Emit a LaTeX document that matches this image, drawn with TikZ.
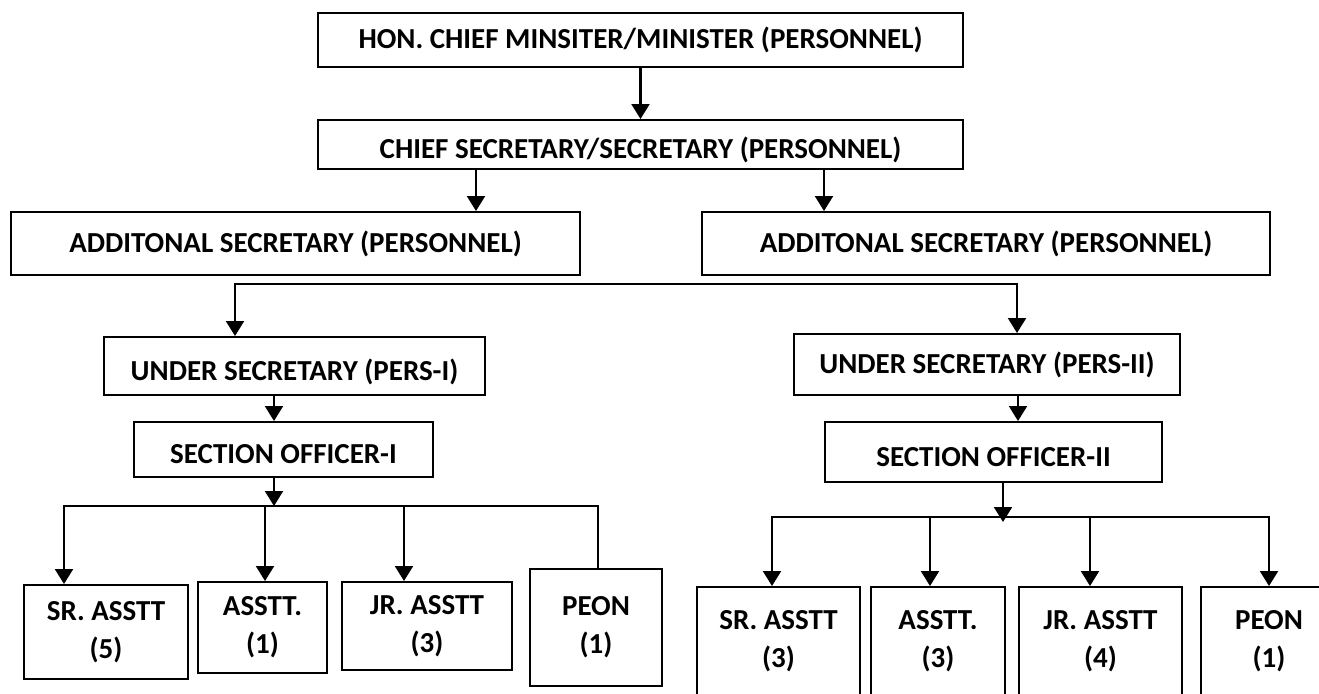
\documentclass[tikz,border=0pt]{standalone}
\usepackage{fontspec}
\setmainfont{Carlito}
\usetikzlibrary{arrows.meta}
\tikzset{
    box/.style={draw, line width=2pt, inner sep=0pt, align=center, font=\fontsize{29}{38}\selectfont\bfseries},
    low/.style={text height=28pt, text depth=0pt},
    arr/.style={line width=2.2pt, line cap=rect, -{Triangle[length=15pt,width=18pt]}},
    arrs/.style={line width=2.2pt, {Triangle[length=15pt,width=18pt]}-{Triangle[length=15pt,width=18pt]}},
    ln/.style={line width=2.2pt, line cap=rect}}

\begin{document}
\begin{tikzpicture}[x=1pt,y=-1pt]
\useasboundingbox (0,0) rectangle (1319,693);
\clip (0,0) rectangle (1319,693);

% top levels
\node[box, minimum width=645pt, minimum height=54pt] (hon) at (640.5,40) {HON. CHIEF MINSITER/MINISTER (PERSONNEL)};
\node[box, low, minimum width=645pt, minimum height=49pt] (chief) at (640.5,144.5) {CHIEF SECRETARY/SECRETARY (PERSONNEL)};
\node[box, minimum width=569pt, minimum height=63pt] (addl) at (295.5,243.5) {ADDITONAL SECRETARY (PERSONNEL)};
\node[box, minimum width=568pt, minimum height=63pt] (addr) at (986,243.5) {ADDITONAL SECRETARY (PERSONNEL)};

\node[box, low, minimum width=381pt, minimum height=58pt] (usl) at (294.5,366) {UNDER SECRETARY (PERS-I)};
\node[box, minimum width=386pt, minimum height=61pt] (usr) at (987,364.5) {UNDER SECRETARY (PERS-II)};
\node[box, low, minimum width=299pt, minimum height=55pt] (sol) at (283.5,449.5) {SECTION OFFICER-I};
\node[box, low, minimum width=337pt, minimum height=60pt] (sor) at (993.5,452) {SECTION OFFICER-II};

% staff under section officer-I
\node[box, minimum width=164pt, minimum height=94pt] (sra1) at (106,632) {SR. ASSTT\\(5)};
\node[box, minimum width=129pt, minimum height=91pt] (asa1) at (262.5,627.5) {ASSTT.\\(1)};
\node[box, minimum width=170pt, minimum height=88pt] (jra1) at (427,626) {JR. ASSTT\\(3)};
\node[box, minimum width=132pt, minimum height=117pt] (peo1) at (596,627.5) {PEON\\(1)};

% staff under section officer-II (boxes run past the page edge)
\node[box, minimum width=163pt, minimum height=108pt] (sra2) at (778.5,641) {SR. ASSTT\\(3)};
\node[box, minimum width=134pt, minimum height=108pt] (asa2) at (938,641) {ASSTT.\\(3)};
\node[box, minimum width=163pt, minimum height=108pt] (jra2) at (1100.5,641) {JR. ASSTT\\(4)};
\node[box, minimum width=136pt, minimum height=108pt] (peo2) at (1269,641) {PEON\\(1)};

% connectors
\draw[arr] (hon) -- (chief);
\coordinate (c1) at (476,0);
\coordinate (c2) at (824,0);
\draw[arr] (chief.south -| c1) -- (addl.north -| c1);
\draw[arr] (chief.south -| c2) -- (addr.north -| c2);

\coordinate (b1) at (235,284);
\coordinate (b2) at (1017,284);
\draw[arrs] (usl.north -| b1) -- (b1) -- (b2) -- (usr.north -| b2);

\coordinate (d1) at (274,0);
\coordinate (d2) at (1018,0);
\draw[arr] (usl.south -| d1) -- (sol.north -| d1);
\draw[arr] (usr.south -| d2) -- (sor.north -| d2);

% left bus
\coordinate (e1) at (274,506);
\coordinate (l1) at (64,506);
\coordinate (l2) at (265,506);
\coordinate (l3) at (404,506);
\coordinate (l4) at (598,506);
\draw[arr] (sol.south -| e1) -- (e1);
\draw[ln] (l1) -- (l4);
\draw[arr] (l1) -- (sra1.north -| l1);
\draw[arr] (l2) -- (asa1.north -| l2);
\draw[arr] (l3) -- (jra1.north -| l3);
\draw[ln] (l4) -- (peo1.north -| l4);

% right bus
\coordinate (e2) at (1003,517);
\coordinate (r1) at (772,517);
\coordinate (r2) at (930,517);
\coordinate (r3) at (1090,517);
\coordinate (r4) at (1269,517);
\draw[arr] (sor.south -| e2) -- ([yshift=-5pt]e2);
\draw[ln] (r1) -- (r4);
\draw[arr] (r1) -- (sra2.north -| r1);
\draw[arr] (r2) -- (asa2.north -| r2);
\draw[arr] (r3) -- (jra2.north -| r3);
\draw[arr] (r4) -- (peo2.north -| r4);
\end{tikzpicture}
\end{document}
